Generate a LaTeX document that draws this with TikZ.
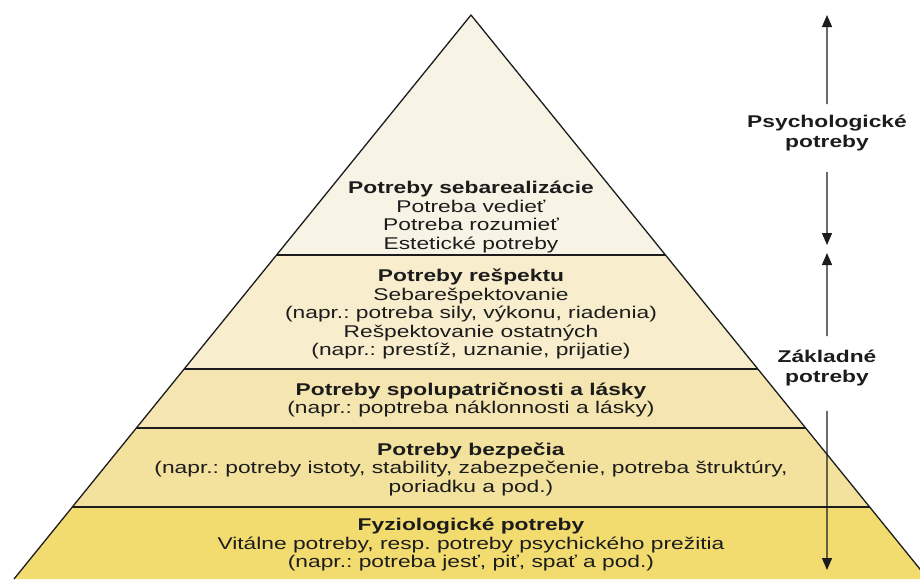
\documentclass[tikz,border=0pt]{standalone}
\usepackage{fontspec}
\setmainfont{Liberation Sans}
\usetikzlibrary{calc,arrows.meta}
\frenchspacing

\definecolor{selfcol}{HTML}{F7F4E6}
\definecolor{respectcol}{HTML}{F8EDCD}
\definecolor{lovecol}{HTML}{F5E6B1}
\definecolor{safetycol}{HTML}{F3E29E}
\definecolor{physcol}{HTML}{F2DC70}
\definecolor{inkcol}{HTML}{1C1C1C}

\tikzset{
	levelline/.style={draw=inkcol, line width=1.3pt},
	leveltext/.style={align=center, xscale=1.34, inner sep=0pt, text=inkcol,
		font=\fontsize{17}{18.5}\selectfont},
	sidetext/.style={align=center, xscale=1.34, inner sep=0pt, text=inkcol,
		font=\fontsize{17}{19.5}\selectfont\bfseries},
	sidearrow/.style={draw=inkcol, line width=1.3pt, -{Triangle[length=12pt,width=10pt]}}
}

\begin{document}
\begin{tikzpicture}[x=1pt, y=-1pt]

	\useasboundingbox (0,0) rectangle (920,579);

	%% The corners of the pyramid
	\coordinate (apex) at (471,15);
	\coordinate (left) at (14,579);
	\coordinate (right) at (928,579);

	%% The five levels, top to bottom
	\fill[selfcol]    (apex) -- ($(apex)!0.4255!(left)$) -- ($(apex)!0.4255!(right)$) -- cycle;
	\fill[respectcol] ($(apex)!0.4255!(left)$) -- ($(apex)!0.6277!(left)$) -- ($(apex)!0.6277!(right)$) -- ($(apex)!0.4255!(right)$) -- cycle;
	\fill[lovecol]    ($(apex)!0.6277!(left)$) -- ($(apex)!0.7323!(left)$) -- ($(apex)!0.7323!(right)$) -- ($(apex)!0.6277!(right)$) -- cycle;
	\fill[safetycol]  ($(apex)!0.7323!(left)$) -- ($(apex)!0.8723!(left)$) -- ($(apex)!0.8723!(right)$) -- ($(apex)!0.7323!(right)$) -- cycle;
	\fill[physcol]    ($(apex)!0.8723!(left)$) -- (left) -- (right) -- ($(apex)!0.8723!(right)$) -- cycle;

	%% The outline and the dividing lines
	\draw[levelline, line join=round] (left) -- (apex) -- (right);
	\draw[levelline] ($(apex)!0.4255!(left)$) -- ($(apex)!0.4255!(right)$);
	\draw[levelline] ($(apex)!0.6277!(left)$) -- ($(apex)!0.6277!(right)$);
	\draw[levelline] ($(apex)!0.7323!(left)$) -- ($(apex)!0.7323!(right)$);
	\draw[levelline] ($(apex)!0.8723!(left)$) -- ($(apex)!0.8723!(right)$);

	%% The texts of the levels
	\node[leveltext] at (471,217) (self) {\textbf{Potreby sebarealizácie}\\Potreba vedieť\\Potreba rozumieť\\Estetické potreby};
	\node[leveltext] at (471,314) (respect) {\textbf{Potreby rešpektu}\\Sebarešpektovanie\\(napr.: potreba sily, výkonu, riadenia)\\Rešpektovanie ostatných\\(napr.: prestíž, uznanie, prijatie)};
	\node[leveltext] at (471,400) (love) {\textbf{Potreby spolupatričnosti a lásky}\\(napr.: poptreba náklonnosti a lásky)};
	\node[leveltext] at (471,469) (safety) {\textbf{Potreby bezpečia}\\(napr.: potreby istoty, stability, zabezpečenie, potreba štruktúry,\\poriadku a pod.)};
	\node[leveltext] at (471,545) (phys) {\textbf{Fyziologické potreby}\\Vitálne potreby, resp. potreby psychického prežitia\\(napr.: potreba jesť, piť, spať a pod.)};

	%% The side labels with their arrows
	\node[sidetext] at (827,133) (psych) {Psychologické\\potreby};
	\node[sidetext] at (827,368) (basic) {Základné\\potreby};

	\coordinate (psychtop) at (827,15);
	\coordinate (psychend) at (827,245);
	\coordinate (basictop) at (827,253);
	\coordinate (basicend) at (827,570);

	\draw[sidearrow, shorten <=11pt] (psych) -- (psychtop);
	\draw[sidearrow, shorten <=21pt] (psych) -- (psychend);
	\draw[sidearrow, shorten <=14pt] (basic) -- (basictop);
	\draw[sidearrow, shorten <=25pt] (basic) -- (basicend);

\end{tikzpicture}
\end{document}
